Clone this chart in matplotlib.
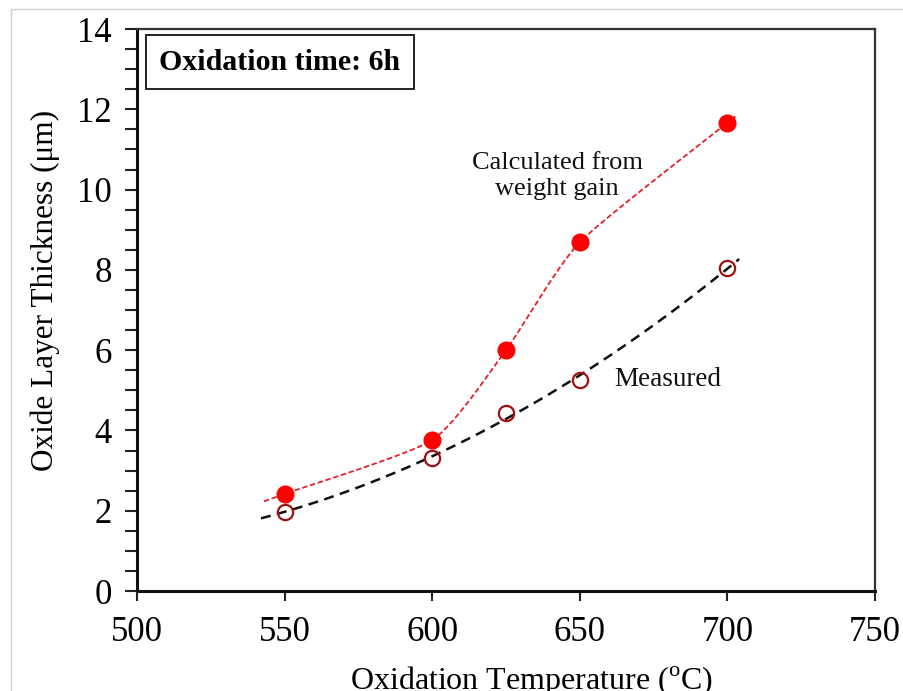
import matplotlib.pyplot as plt
import numpy as np
from matplotlib.patches import Rectangle
from matplotlib.ticker import MultipleLocator

plt.rcParams.update({'font.family': 'Liberation Serif', 'mathtext.fontset': 'custom',
                     'mathtext.rm': 'Liberation Serif'})

# oxidation temperature (C) and oxide layer thickness (um), 6 h exposure
temp = np.array([550, 600, 625, 650, 700])
calc_thk = np.array([2.42, 3.76, 6.00, 8.69, 11.66])
meas_thk = np.array([1.97, 3.31, 4.43, 5.26, 8.05])


def smooth_line(x, y, ext_lo=7.0, ext_hi=1.0, tension=0.6, n=30):
    # cardinal spline through the points, with short straight extensions
    x0 = x[0] - ext_lo
    y0 = y[0] - ext_lo * (y[1] - y[0]) / (x[1] - x[0])
    x1 = x[-1] + ext_hi
    y1 = y[-1] + ext_hi * (y[-1] - y[-2]) / (x[-1] - x[-2])
    px = np.concatenate([[x0], x, [x1]])
    py = np.concatenate([[y0], y, [y1]])
    gx = np.concatenate([[2 * px[0] - px[1]], px, [2 * px[-1] - px[-2]]])
    gy = np.concatenate([[2 * py[0] - py[1]], py, [2 * py[-1] - py[-2]]])
    t = np.linspace(0, 1, n)
    h00 = 2 * t ** 3 - 3 * t ** 2 + 1
    h10 = t ** 3 - 2 * t ** 2 + t
    h01 = -2 * t ** 3 + 3 * t ** 2
    h11 = t ** 3 - t ** 2
    xs, ys = [], []
    for i in range(1, len(gx) - 2):
        for g, out in ((gx, xs), (gy, ys)):
            m1 = tension * 0.5 * (g[i + 1] - g[i - 1])
            m2 = tension * 0.5 * (g[i + 2] - g[i])
            out.append(h00 * g[i] + h10 * m1 + h01 * g[i + 1] + h11 * m2)
    return np.concatenate(xs), np.concatenate(ys)


fig = plt.figure(figsize=(9.04, 6.91), dpi=100)
fig.patches.append(Rectangle((11 / 904, -0.1), 1.2, 1 - 9 / 691 + 0.1, transform=fig.transFigure,
                             fill=False, edgecolor='#d0d0d0', linewidth=1.0))
ax = fig.add_axes([137 / 904, 100 / 691, 738 / 904, 562 / 691])

# calculated from weight gain: smoothed line
cx, cy = smooth_line(temp, calc_thk)
ax.plot(cx, cy, color='#e8202a', linestyle=(0, (3, 1.5)), linewidth=1.3, zorder=2)
ax.plot(temp, calc_thk, linestyle='none', marker='o', markersize=12, color='#ff0000',
        markeredgecolor='#ff0000', zorder=3)

# measured: quadratic trend line
coef = np.polyfit(temp, meas_thk, 2)
mx = np.linspace(542, 704, 100)
ax.plot(mx, np.polyval(coef, mx), color='#111111', linestyle=(0, (4, 2.6)), linewidth=1.8, zorder=2)
ax.plot(temp, meas_thk, linestyle='none', marker='o', markersize=11, markerfacecolor='none',
        markeredgecolor='#a01010', markeredgewidth=1.6, zorder=3)

ax.set_xlim(500, 750)
ax.set_ylim(0, 14)
ax.xaxis.set_major_locator(MultipleLocator(50))
ax.yaxis.set_major_locator(MultipleLocator(2))
ax.yaxis.set_minor_locator(MultipleLocator(0.5))
ax.tick_params(axis='both', which='major', direction='out', labelsize=25, width=1.5, length=9,
               color='#222222')
ax.tick_params(axis='y', which='minor', direction='out', width=1.5, length=9, color='#222222')
ax.tick_params(axis='y', which='major', pad=9)
ax.tick_params(axis='x', which='major', length=7, pad=11)
for side in ('left', 'bottom'):
    ax.spines[side].set_linewidth(2.2)
    ax.spines[side].set_color('#111111')
for side in ('top', 'right'):
    ax.spines[side].set_linewidth(1.6)
    ax.spines[side].set_color('#333333')

ax.set_ylabel('Oxide Layer Thickness (μm)', fontsize=22.5)
ax.set_xlabel('Oxidation Temperature ($^{\\mathrm{o}}$C)', fontsize=23)
ax.yaxis.set_label_coords(-0.104, 0.535)
ax.xaxis.set_label_coords(0.534, -0.131)

ax.text(642.3, 10.34, 'Calculated from\nweight gain', fontsize=19, ha='center', va='center',
        linespacing=1.25, color='#111111')
ax.text(661.6, 5.28, 'Measured', fontsize=19.5, ha='left', va='center', color='#111111')
ax.text(0.0298, 0.941, 'Oxidation time: 6h', transform=ax.transAxes, fontsize=21.5,
        fontweight='bold', ha='left', va='center',
        bbox=dict(boxstyle='square,pad=0.45', facecolor='white', edgecolor='#111111', linewidth=1.3))

plt.savefig('out.png', dpi=100)
